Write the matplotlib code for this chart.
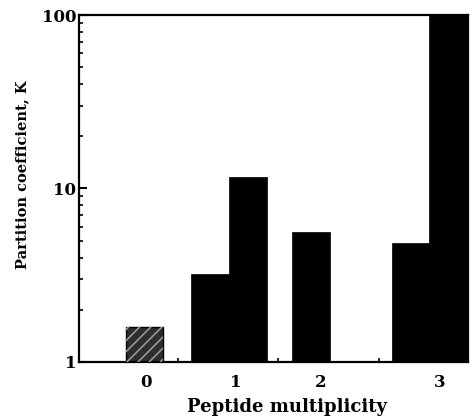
import matplotlib.pyplot as plt
from matplotlib.ticker import LogLocator, NullFormatter, FixedLocator

# partition coefficient K (log axis)
multiplicity = ['0', '1', '2', '3']
k_plain = [1.6]                       # multiplicity 0, hatched bar
k_black = [3.2, 11.7, 5.6, 4.85, 100]  # multiplicity 1 (x2), 2, 3 (x2)

# layout (x in bar-width units)
x_plain = [1.75]
x_black = [3.5, 4.52, 6.2, 8.87, 9.87]
x_labels = [1.79, 4.19, 6.45, 9.63]
x_minor = [2.64, 5.33, 8.03]

plt.rcParams['font.family'] = ['DejaVu Serif']
plt.rcParams['font.weight'] = 'bold'

fig = plt.figure(figsize=(4.70, 4.17), dpi=100)
ax = fig.add_axes([0.168, 0.132, 0.828, 0.832])

ax.bar(x_plain, k_plain, width=1.0, color='#2e2e2e', edgecolor='black', linewidth=1.0, zorder=2)
ax.bar(x_plain, k_plain, width=1.0, fill=False, hatch='///', edgecolor='#a8a8a8', linewidth=0, zorder=3)
ax.bar(x_black, k_black, width=1.02, color='black', edgecolor='black', linewidth=0.5, zorder=2)

ax.set_yscale('log')
ax.set_ylim(1, 100)
ax.set_xlim(0, 10.4)

ax.set_yticks([1, 10, 100])
ax.set_yticklabels(['1', '10', '100'])
ax.yaxis.set_minor_locator(LogLocator(base=10, subs=range(2, 10)))
ax.yaxis.set_minor_formatter(NullFormatter())

ax.set_xticks(x_labels)
ax.set_xticklabels(multiplicity)
ax.xaxis.set_minor_locator(FixedLocator(x_minor))

ax.tick_params(axis='y', which='major', direction='in', length=6, width=1.5, labelsize=12, pad=2)
ax.tick_params(axis='y', which='minor', direction='in', length=3, width=1.2)
ax.tick_params(axis='x', which='major', length=0, labelsize=12, pad=9)
ax.tick_params(axis='x', which='minor', direction='in', length=3, width=1.2)

for s in ax.spines.values():
    s.set_linewidth(1.6)

ax.set_xlabel('Peptide multiplicity', fontsize=13, fontweight='bold')
ax.xaxis.set_label_coords(0.535, -0.105)
ax.set_ylabel('Partition coefficient, K', fontsize=10.5, fontweight='bold')
ax.yaxis.set_label_coords(-0.128, 0.539)

fig.savefig('out.png', dpi=100)
